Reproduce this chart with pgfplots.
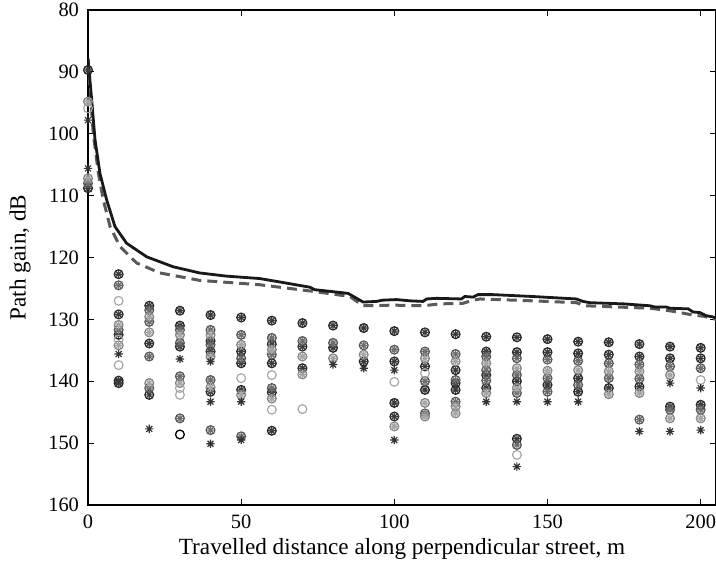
\documentclass[border=0pt]{standalone}
\usepackage{pgfplots}
\pgfplotsset{compat=1.18}
\usepackage{pgfplotstable}
\usepackage{fontspec}
\setmainfont{Liberation Serif}

\definecolor{cA}{HTML}{1E1E1E}
\definecolor{aA}{HTML}{3C3C3C}
\definecolor{cB}{HTML}{505050}
\definecolor{aB}{HTML}{6E6E6E}
\definecolor{cC}{HTML}{7D7D7D}
\definecolor{aC}{HTML}{A5A5A5}
\definecolor{cD}{HTML}{A8A8A8}
\definecolor{aS}{HTML}{333333}
\definecolor{dashc}{HTML}{5A5A5A}

\pgfdeclareplotmark{ast8}{%
  \pgfpathmoveto{\pgfqpoint{-\pgfplotmarksize}{0pt}}\pgfpathlineto{\pgfqpoint{\pgfplotmarksize}{0pt}}%
  \pgfpathmoveto{\pgfqpoint{0pt}{-\pgfplotmarksize}}\pgfpathlineto{\pgfqpoint{0pt}{\pgfplotmarksize}}%
  \pgfpathmoveto{\pgfqpoint{-0.707\pgfplotmarksize}{-0.707\pgfplotmarksize}}\pgfpathlineto{\pgfqpoint{0.707\pgfplotmarksize}{0.707\pgfplotmarksize}}%
  \pgfpathmoveto{\pgfqpoint{-0.707\pgfplotmarksize}{0.707\pgfplotmarksize}}\pgfpathlineto{\pgfqpoint{0.707\pgfplotmarksize}{-0.707\pgfplotmarksize}}%
  \pgfusepathqstroke}

\pgfplotstableread{
x y
0 89.7
0 108.8
10 122.7
10 129.2
10 132.5
10 139.9
10 140.3
20 127.8
20 133.9
20 142.2
30 128.6
30 131.0
30 134.4
40 129.3
40 133.5
40 135.2
40 141.7
50 129.7
50 135.2
50 137.1
50 141.4
60 130.2
60 134.0
60 137.1
60 141.8
60 148.0
70 130.6
70 134.4
70 137.9
80 131.0
80 134.6
90 131.4
90 136.8
100 131.9
100 136.8
100 143.5
100 145.7
110 132.1
110 137.6
110 141.4
120 132.4
120 138.2
120 140.3
120 141.4
130 132.8
130 135.2
130 139.0
130 141.1
140 132.9
140 135.3
140 140.0
140 149.3
150 133.2
150 135.3
150 140.6
160 133.6
160 135.5
160 139.5
160 141.7
170 133.7
170 135.7
170 141.1
180 134.0
180 136.0
180 140.9
190 134.4
190 136.3
190 144.1
200 134.6
200 136.3
200 143.8
}\gA

\pgfplotstableread{
x y
0 108.0
10 124.5
10 131.7
20 128.5
20 130.4
20 136.0
20 141.1
30 131.7
30 133.8
30 139.2
30 146.0
40 131.7
40 134.1
40 139.8
40 147.9
50 132.5
50 136.3
50 148.9
60 133.0
60 135.7
60 141.1
70 133.5
80 133.8
90 134.2
100 134.9
110 135.2
110 140.0
110 145.2
120 135.6
120 139.8
120 143.3
130 136.0
130 138.2
130 139.9
140 136.3
140 139.0
140 141.9
140 150.3
150 136.5
150 139.5
150 141.7
160 136.7
160 140.6
170 137.1
170 139.5
180 137.3
180 139.6
180 146.2
190 137.6
190 144.6
200 137.9
200 144.6
}\gB

\pgfplotstableread{
x y
0 94.8
0 107.2
10 130.9
10 134.2
20 129.6
20 132.1
20 140.3
30 132.5
30 140.3
40 132.5
40 136.0
40 141.0
50 134.1
50 142.2
60 134.9
60 142.8
70 136.0
70 138.9
80 136.3
90 135.7
100 147.3
110 136.3
110 143.5
110 145.7
120 136.8
120 144.1
120 145.2
130 137.1
130 141.9
140 137.9
140 141.1
150 138.3
160 138.2
170 138.4
170 142.1
180 138.4
180 141.9
190 139.0
190 146.0
200 146.0
}\gC

\pgfplotstableread{
x y
0 95.9
10 127.0
10 133.3
10 137.4
30 141.1
30 142.2
50 139.5
60 139.0
60 144.6
70 144.5
100 140.1
110 138.7
140 151.9
200 139.8
}\gD

\pgfplotstableread{
x y
0 97.8
0 105.6
10 135.6
20 147.7
30 136.4
40 136.8
40 143.3
40 150.1
50 143.3
50 149.5
80 137.3
90 137.9
100 138.2
100 149.5
130 143.3
140 143.3
140 153.8
150 143.3
160 143.3
180 148.1
190 140.3
190 148.1
200 141.1
200 147.9
}\gS

\begin{document}
\begin{tikzpicture}
\begin{axis}[
  name=main,
  scale only axis,
  width=314pt, height=247.5pt,
  xmin=0, xmax=205,
  ymin=80, ymax=160,
  y dir=reverse,
  xtick={0,50,100,150,200},
  ytick={80,90,...,160},
  tick align=inside,
  tick pos=both,
  major tick length=3pt,
  axis line style={line width=1pt},
  every tick/.style={line width=0.6pt, black},
  tick label style={font=\fontsize{10.2}{12}\selectfont},
  xticklabel style={yshift=-1.5pt},
  yticklabel style={xshift=-1pt},
  /pgf/number format/assume math mode=true,
  xlabel={Travelled distance along perpendicular street, m},
  ylabel={Path gain, dB},
  label style={font=\fontsize{11.6}{14}\selectfont},
  xlabel style={at={(axis description cs:0.5,-0.0889)}, anchor=center},
  ylabel style={at={(axis description cs:-0.1083,0.5)}, anchor=center},
  clip=true,
]
% group A
\addplot[only marks, mark=o, mark size=2.2pt, draw=cA, mark options={line width=0.6pt}] table[x=x,y=y] {\gA};
\addplot[only marks, mark=ast8, mark size=2.1pt, draw=aA, mark options={line width=0.6pt}] table[x=x,y=y] {\gA};
% group B
\addplot[only marks, mark=o, mark size=2.2pt, draw=cB, mark options={line width=0.6pt}] table[x=x,y=y] {\gB};
\addplot[only marks, mark=ast8, mark size=2.1pt, draw=aB, mark options={line width=0.6pt}] table[x=x,y=y] {\gB};
% group C
\addplot[only marks, mark=o, mark size=2.2pt, draw=cC, mark options={line width=0.6pt}] table[x=x,y=y] {\gC};
\addplot[only marks, mark=ast8, mark size=2.1pt, draw=aC, mark options={line width=0.6pt}] table[x=x,y=y] {\gC};
% group D (circles only)
\addplot[only marks, mark=o, mark size=2.2pt, draw=cD, mark options={line width=0.6pt}] table[x=x,y=y] {\gD};
% black circle only
\addplot[only marks, mark=o, mark size=2.2pt, draw=black, mark options={line width=0.65pt}] coordinates {(30,148.6)};
% asterisks only
\addplot[only marks, mark=ast8, mark size=2.1pt, draw=aS, mark options={line width=0.6pt}] table[x=x,y=y] {\gS};

% dashed line
\addplot[dashc, line width=1.5pt, dash pattern=on 5pt off 3pt] coordinates {
(0,88.0) (1.7,99.9) (3.4,106.4) (5.0,110.7) (7.2,115.0) (10.4,118.2) (15.9,120.9)
(23.5,122.5) (36.5,123.7) (56,124.4) (73.9,125.5) (85.5,126.3) (89.8,127.8)
(99.6,127.7) (109.4,127.8) (114.8,127.5) (122.4,127.4) (125.7,126.9) (128,126.7)
(145,127.0) (159.4,127.3) (162.2,127.8) (183.4,128.2) (188.3,128.5) (191,128.7)
(197.5,129.3) (201,129.5) (205,130.0)
};
% solid line
\addplot[black!90, line width=1.4pt] coordinates {
(0,87.8) (1.2,94.5) (2.3,101.0) (3.9,106.4) (6.1,110.7) (8.8,115.0) (12.6,117.7)
(19.2,119.9) (27.8,121.5) (36.5,122.5) (45,123.0) (56,123.4) (62,123.9) (72.4,124.8)
(74,125.2) (84.9,125.8) (87.7,126.6) (89.8,127.2) (94.2,127.1) (96,126.9) (100.7,126.8)
(105,127.0) (109.4,127.1) (110.5,126.7) (113.8,126.6) (121.9,126.7) (123,126.3)
(125.7,126.4) (127.3,126.0) (132.2,126.0) (145,126.3) (159.4,126.7) (161.6,127.1)
(163.8,127.3) (175,127.5) (183.4,127.8) (185,128.0) (188.8,128.0) (189.9,128.2)
(195.9,128.3) (197.5,128.8) (199.7,128.9) (201.8,129.4) (205,129.7)
};
\end{axis}
\pgfresetboundingbox
\path ([xshift=-44pt,yshift=-35pt]main.south west) rectangle ([yshift=5pt]main.north east);
\end{tikzpicture}
\end{document}
